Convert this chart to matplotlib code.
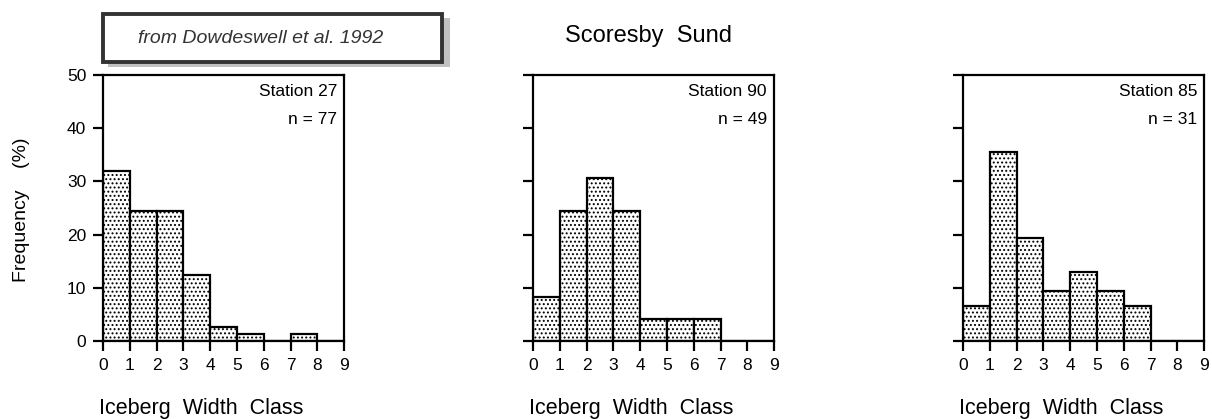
import matplotlib
matplotlib.use("Agg")
import matplotlib.pyplot as plt
from matplotlib.patches import Rectangle

plt.rcParams['font.family'] = ['Liberation Sans', 'DejaVu Sans']
plt.rcParams['hatch.linewidth'] = 0.9

classes = [0, 1, 2, 3, 4, 5, 6, 7, 8]
stations = ['Station 27', 'Station 90', 'Station 85']
counts = ['n = 77', 'n = 49', 'n = 31']
freq_27 = [32.0, 24.5, 24.5, 12.5, 2.6, 1.3, 0.0, 1.3, 0.0]
freq_90 = [8.2, 24.5, 30.6, 24.5, 4.1, 4.1, 4.1, 0.0, 0.0]
freq_85 = [6.5, 35.5, 19.4, 9.5, 12.9, 9.5, 6.5, 0.0, 0.0]
series = [freq_27, freq_90, freq_85]
lefts = [0.085, 0.4398, 0.7946]


def panel(ax, vals, station, n, show_ylabels):
    ax.bar(classes, vals, width=1.0, align='edge', facecolor='white',
           edgecolor='black', linewidth=1.6, hatch='....')
    ax.set_xlim(0, 9)
    ax.set_ylim(0, 50)
    ax.set_xticks(range(10))
    ax.set_yticks([0, 10, 20, 30, 40, 50])
    ax.tick_params(direction='out', length=7, width=1.6, labelsize=12.5, pad=5)
    if not show_ylabels:
        ax.set_yticklabels([])
    for s in ax.spines.values():
        s.set_linewidth(1.6)
    ax.text(0.97, 0.965, station, transform=ax.transAxes, ha='right', va='top', fontsize=12.5)
    ax.text(0.97, 0.86, n.replace(' = ', ' = '), transform=ax.transAxes, ha='right', va='top', fontsize=12.5)
    ax.text(-0.015, -0.255, 'Iceberg  Width  Class', transform=ax.transAxes,
            ha='left', va='center', fontsize=15.5)


fig = plt.figure(figsize=(12.12, 4.19), dpi=100)
for k in range(3):
    ax = fig.add_axes([lefts[k], 0.186, 0.199, 0.635])
    panel(ax, series[k], stations[k], counts[k], k == 0)

fig.text(0.018, 0.50, 'Frequency    (%)', rotation=90, ha='center', va='center', fontsize=14)
fig.text(0.535, 0.915, 'Scoresby  Sund', ha='center', va='center', fontsize=17)

# source box with shadow
fig.patches.append(Rectangle((0.089, 0.840), 0.282, 0.118, transform=fig.transFigure,
                             facecolor='#999999', edgecolor='none', alpha=0.6))
fig.patches.append(Rectangle((0.085, 0.852), 0.280, 0.115, transform=fig.transFigure,
                             facecolor='white', edgecolor='#333333', linewidth=2.8))
fig.text(0.215, 0.908, 'from Dowdeswell et al. 1992', ha='center', va='center',
         fontsize=14, style='italic', color='#333333')

fig.savefig('out.png', dpi=100)
